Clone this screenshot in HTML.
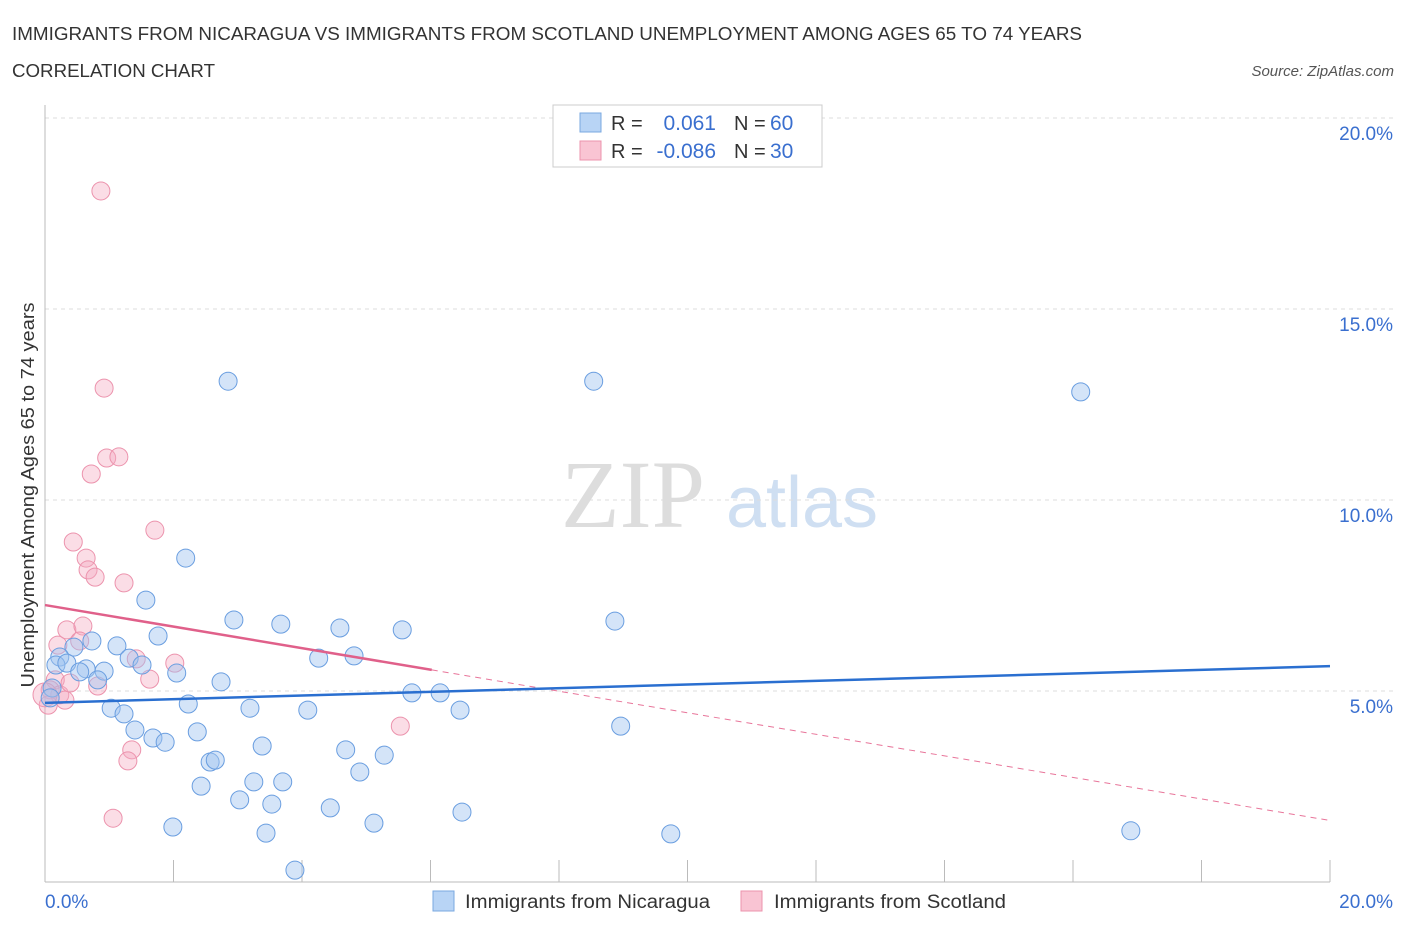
<!DOCTYPE html>
<html><head><meta charset="utf-8"><style>
body{margin:0;background:#fff;font-family:"Liberation Sans",sans-serif;}
</style></head><body>
<svg id="chart" width="1406" height="930" xmlns="http://www.w3.org/2000/svg" font-family="Liberation Sans, sans-serif">
<text x="12" y="40" font-size="18" fill="#333" textLength="1070" lengthAdjust="spacingAndGlyphs">IMMIGRANTS FROM NICARAGUA VS IMMIGRANTS FROM SCOTLAND UNEMPLOYMENT AMONG AGES 65 TO 74 YEARS</text>
<text x="12" y="77" font-size="18" fill="#333" textLength="203" lengthAdjust="spacingAndGlyphs">CORRELATION CHART</text>
<text x="1394" y="76" font-size="15" fill="#555" font-style="italic" text-anchor="end">Source: ZipAtlas.com</text>
<g>
<text x="633" y="527" font-size="96" font-family="Liberation Serif, serif" fill="#ddd" text-anchor="middle">ZIP</text>
<text x="802" y="527" font-size="72" fill="#cfdff2" text-anchor="middle">atlas</text>
</g>
<g id="grid"></g>
<g id="axes"></g>
<g id="marks"></g>
<text transform="translate(34,495) rotate(-90)" font-size="18" fill="#333" text-anchor="middle" textLength="385" lengthAdjust="spacingAndGlyphs">Unemployment Among Ages 65 to 74 years</text>
<g>
<rect x="553" y="105" width="269" height="62" fill="#fff" stroke="#ccc"/>
<rect x="580" y="113" width="21" height="19" fill="#b8d4f5" stroke="#7aa8e0"/>
<rect x="580" y="141" width="21" height="19" fill="#f9c4d3" stroke="#ec93ad"/>
<text x="611" y="130" font-size="20" fill="#333">R =</text>
<text x="716" y="130" font-size="21" fill="#3a6fcf" text-anchor="end">0.061</text>
<text x="734" y="130" font-size="20" fill="#333">N =</text>
<text x="770" y="130" font-size="21" fill="#3a6fcf">60</text>
<text x="611" y="158" font-size="20" fill="#333">R =</text>
<text x="716" y="158" font-size="21" fill="#3a6fcf" text-anchor="end">-0.086</text>
<text x="734" y="158" font-size="20" fill="#333">N =</text>
<text x="770" y="158" font-size="21" fill="#3a6fcf">30</text>
</g>
<g>
<rect x="433" y="891" width="21" height="20" fill="#b8d4f5" stroke="#7aa8e0"/>
<text x="465" y="908" font-size="19" fill="#333" textLength="245" lengthAdjust="spacingAndGlyphs">Immigrants from Nicaragua</text>
<rect x="741" y="891" width="21" height="20" fill="#f9c4d3" stroke="#ec93ad"/>
<text x="774" y="908" font-size="19" fill="#333" textLength="232" lengthAdjust="spacingAndGlyphs">Immigrants from Scotland</text>
</g>
</svg>
<script>
const yTicks=[5,10,15,20];
const yTickLabels=["5.0%","10.0%","15.0%","20.0%"];
const xTickLabels=["0.0%","20.0%"];
const blueX=[2.85,8.54,16.12,2.19,1.57,2.94,3.67,4.59,5.56,8.87,1.76,0.73,1.12,0.45,0.23,0.17,0.34,0.64,0.92,1.31,1.51,2.05,4.26,4.81,0.54,0.82,2.74,5.71,6.15,2.23,1.03,1.23,3.19,4.09,6.46,8.96,1.40,2.37,1.68,1.87,3.38,4.68,5.28,2.57,2.65,4.90,2.43,3.25,3.70,3.03,3.53,4.44,6.49,1.99,5.12,3.44,9.74,16.90,3.89,0.11,0.08];
const blueY=[13.11,13.11,12.83,8.48,7.38,6.86,6.75,6.65,6.60,6.83,6.44,6.31,6.18,6.15,5.89,5.68,5.73,5.58,5.52,5.86,5.68,5.47,5.86,5.92,5.50,5.29,5.24,4.95,4.95,4.66,4.55,4.40,4.55,4.50,4.50,4.08,3.98,3.93,3.77,3.66,3.56,3.46,3.32,3.14,3.19,2.88,2.51,2.62,2.62,2.15,2.04,1.94,1.83,1.44,1.54,1.28,1.26,1.34,0.31,5.08,4.82];
const pinkX=[0.87,0.92,0.96,1.15,0.72,1.71,0.44,0.64,0.67,0.78,1.23,0.34,0.59,0.54,0.20,2.02,1.42,1.63,0.82,5.53,1.35,1.29,1.06,0.16,0.08,0.23,0.31,0.05,0.39,0.0];
const pinkY=[18.09,12.93,11.10,11.13,10.68,9.21,8.90,8.48,8.17,7.98,7.83,6.60,6.70,6.31,6.20,5.73,5.84,5.31,5.13,4.08,3.46,3.17,1.67,5.29,5.03,4.90,4.76,4.63,5.21,4.90];
const blueTrend=[4.69,5.65];
const pinkTrend=[7.25,1.61];
const pinkSolidEnd=6.02;
const NS="http://www.w3.org/2000/svg";
const X0=45,X1=1330,Y0=882,PX=1285/20,PY=38.2;
const sx=v=>X0+v*PX, sy=v=>Y0-v*PY;
function mk(tag,attrs,parent){const e=document.createElementNS(NS,tag);for(const k in attrs)e.setAttribute(k,attrs[k]);document.getElementById(parent).appendChild(e);return e;}
yTicks.forEach((t,i)=>{
 const g=mk('line',{x1:X0,x2:1395,y1:sy(t),y2:sy(t),stroke:'#ddd','stroke-dasharray':'4,4'},'grid');
 
 
 const l=mk('text',{x:1393,y:sy(t)+22,'font-size':19,fill:'#3a6fcf','text-anchor':'end'},'axes');
 l.textContent=yTickLabels[i];
 
 
});
let ax=mk('line',{x1:X0,x2:X0,y1:105,y2:Y0,stroke:'#bbb'},'axes');


ax=mk('line',{x1:X0,x2:X1,y1:Y0,y2:Y0,stroke:'#bbb'},'axes');


for(let i=1;i<=10;i++){const t=mk('line',{x1:sx(i*2),x2:sx(i*2),y1:Y0,y2:Y0-22,stroke:'#bbb'},'axes');
 
 }
[[0,'start',45],[20,'end',1393]].forEach((d,i)=>{const l=mk('text',{x:d[2],y:908,'font-size':19,fill:'#3a6fcf','text-anchor':d[1]},'axes');l.textContent=xTickLabels[i];
 
 });
pinkX.forEach((x,i)=>{const c=mk('circle',{cx:sx(x),cy:sy(pinkY[i]),r:i==29?12:9,fill:'rgba(246,170,193,0.4)',stroke:'#ec93ad','stroke-width':1},'marks');
 
 });
blueX.forEach((x,i)=>{const c=mk('circle',{cx:sx(x),cy:sy(blueY[i]),r:9,fill:'rgba(160,196,240,0.45)',stroke:'#6a9ee0','stroke-width':1},'marks');
 
 });
const pe=pinkTrend[0]+(pinkTrend[1]-pinkTrend[0])*pinkSolidEnd/20;
let tl=mk('line',{x1:sx(pinkSolidEnd),y1:sy(pe),x2:sx(20),y2:sy(pinkTrend[1]),stroke:'#e8759a','stroke-width':1,'stroke-dasharray':'6,5'},'marks');


tl=mk('line',{x1:sx(0),y1:sy(pinkTrend[0]),x2:sx(pinkSolidEnd),y2:sy(pe),stroke:'#e0608a','stroke-width':2.5},'marks');


tl=mk('line',{x1:sx(0),y1:sy(blueTrend[0]),x2:sx(20),y2:sy(blueTrend[1]),stroke:'#2a6fd0','stroke-width':2.5},'marks');


</script>
</body></html>
